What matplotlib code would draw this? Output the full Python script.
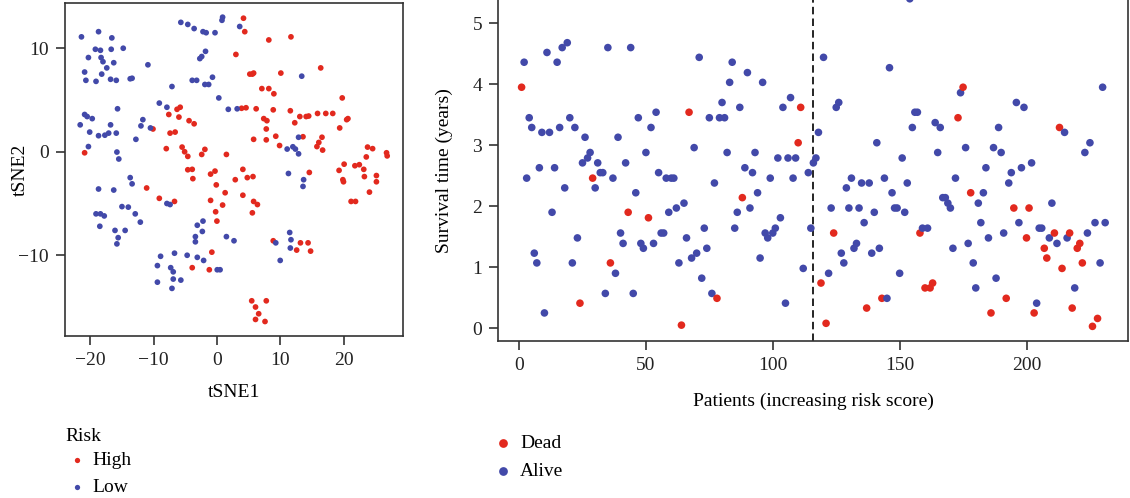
import matplotlib
matplotlib.use("Agg")
import matplotlib.pyplot as plt
from matplotlib.lines import Line2D
import numpy as np

# ---- data: tSNE coordinates by risk group ----
high_tsne1 = [-20.9, -10.1, -7.6, -7.4, -6.6, -6.3, -5.8, -6.0, -4.4, -3.6, -8.0, -5.5, -5.1, -4.6,
              -2.4, -1.9, 1.5, -4.6, -3.9, -3.8, -1.0, -0.3, -0.1, 1.3, 2.9, -1.0, 0.9, -0.2, 0.0,
              -11.1, -9.1, -6.7, -0.8, -3.9, -1.2, 4.2, 4.4, 8.2, 11.7, 3.0, 5.2, 5.6, 5.8, 10.1,
              16.4, 7.1, 8.2, 9.0, 19.8, 3.9, 4.6, 6.2, 8.9, 11.6, 7.4, 7.9, 12.3, 13.1, 14.1, 14.5,
              15.9, 17.2, 18.3, 20.7, 20.5, 19.4, 7.8, 5.8, 7.8, 9.3, 9.9, 13.6, 16.6, 16.1, 15.8,
              16.7, 23.8, 24.6, 23.6, 26.8, 26.9, 20.1, 19.3, 19.9, 20.0, 21.8, 22.5, 23.2, 23.3,
              25.2, 25.2, 24.1, 21.2, 21.9, 14.6, 4.1, 4.8, 5.7, 4.1, 5.8, 6.4, 5.6, 8.9, 13.2,
              14.4, 12.6, 14.8, 5.5, 7.8, 6.1, 6.6, 6.1, 7.6]
high_tsne2 = [-0.1, 2.2, 3.6, 1.8, 1.9, 4.1, 4.3, 3.35, 3.0, 2.7, 0.3, 0.45, 0.0, -0.45,
              -0.26, 0.23, -0.26, -1.74, -1.7, -2.6, -2.16, -1.87, -3.2, -3.96, -2.7, -4.7, -5.15,
              -5.8, -6.7, -3.5, -4.5, -4.8, -9.7, -11.2, -11.4, 12.9, 11.6, 10.8, 11.1, 9.4, 7.5,
              7.5, 7.6, 7.6, 8.1, 6.1, 6.1, 5.6, 5.2, 4.2, 4.25, 4.15, 4.05, 3.96, 3.2, 3.0, 2.8,
              3.4, 3.4, 3.45, 3.7, 3.7, 3.7, 3.2, 3.1, 2.3, 2.2, 1.2, 1.15, 1.5, 0.6, 1.45, 1.4,
              0.9, 0.5, 0.16, 0.45, 0.3, -0.5, -0.1, -0.4, -1.2, -1.8, -2.7, -2.9, -1.35, -1.25,
              -1.7, -2.4, -2.3, -2.9, -3.9, -4.8, -4.8, -2.0, -1.7, -2.5, -2.4, -4.2, -4.8, -5.1,
              -5.9, -8.6, -8.8, -8.8, -9.5, -9.6, -14.4, -14.4, -15.0, -15.65, -16.2, -16.4]

low_tsne1 = [-21.4, -18.7, -16.6, -19.2, -18.4, -16.7, -14.8, -20.3, -18.3, -18.0, -16.3, -17.4,
             -20.9, -18.2, -20.7, -19.1, -16.8, -15.9, -13.7, -13.4, -10.9, -7.1, -5.7, -4.6, -3.6,
             -2.2, -1.7, -0.3, 0.8, 0.9, -2.7, -2.4, -1.8, -3.9, -3.2, -1.9, -1.3, -0.7, 0.3, 1.8,
             3.2, -9.1, -7.9, -20.9, -20.5, -19.7, -21.6, -20.1, -18.7, -17.7, -17.1, -16.8, -15.9,
             -15.7, -20.3, -15.8, -15.5, -12.8, -12.0, -11.7, -10.5, -7.9, -7.4, -13.7, -13.4,
             -18.7, -16.3, -19.1, -18.4, -17.8, -15.0, -14.0, -12.9, -12.1, -18.5, -16.1, -14.5,
             -15.6, -15.8, -2.2, -3.1, -2.3, -3.4, -3.4, 1.5, 2.7, -8.9, -6.7, -4.7, -3.1, -2.1,
             -9.4, -7.3, -6.9, -6.9, -5.7, -9.4, -7.1, 0.05, 0.5, 3.6, 13.4, 12.9, 11.1, 12.0,
             12.4, 12.9, 11.3, 13.7, 13.6, 9.3, 11.5, 11.7, 11.6, 10.0]
low_tsne2 = [11.1, 11.6, 11.0, 9.9, 9.8, 9.9, 10.0, 9.1, 9.1, 8.7, 8.6, 8.1, 7.7, 7.5, 6.9, 6.8,
             7.0, 6.9, 7.05, 7.1, 8.4, 6.3, 12.5, 12.3, 11.9, 11.6, 11.5, 11.5, 12.7, 13.0, 9.0,
             9.2, 9.7, 6.9, 6.9, 6.5, 6.5, 7.2, 5.2, 4.1, 4.15, 4.7, 4.3, 3.6, 3.4, 3.2, 2.6, 1.9,
             1.55, 1.6, 1.8, 2.6, 1.8, 4.15, 0.5, -0.03, -0.7, 1.2, 2.5, 3.1, 2.3, -5.0, -5.1,
             -2.5, -3.1, -3.6, -3.7, -6.0, -6.0, -6.2, -5.3, -5.35, -6.0, -6.8, -7.2, -7.6, -7.6,
             -8.3, -8.9, -6.7, -7.1, -7.7, -8.2, -8.7, -8.2, -8.6, -10.1, -9.8, -10.0, -10.2,
             -10.5, -11.0, -11.2, -11.6, -12.3, -12.4, -12.6, -13.2, -11.4, -11.4, 12.1, 7.3, 1.4,
             0.26, 0.48, 0.26, -0.2, -2.1, -2.7, -3.35, -8.8, -7.8, -8.5, -9.3, -10.5]

# ---- data: survival time by patient rank (increasing risk score) ----
dead_rank = [1, 24, 29, 36, 43, 51, 64, 67, 78, 88, 110, 111, 119, 121, 124, 137, 143, 158, 160,
             162, 163, 173, 175, 178, 186, 192, 195, 200, 201, 203, 207, 208, 211, 213, 214, 217,
             218, 220, 221, 222, 226, 228]
dead_years = [3.95, 0.41, 2.46, 1.07, 1.90, 1.81, 0.05, 3.54, 0.49, 2.14, 3.04, 3.62, 0.74, 0.08,
              1.56, 0.33, 0.49, 1.56, 0.66, 0.66, 0.74, 3.45, 3.95, 2.22, 0.25, 0.49, 1.97, 1.48,
              1.97, 0.25, 1.31, 1.15, 1.56, 3.29, 0.98, 1.56, 0.33, 1.31, 1.39, 1.07, 0.03, 0.16]

alive_rank = [2, 3, 4, 5, 6, 7, 8, 9, 10, 11, 12, 13, 14, 15, 16, 17, 18, 19, 20, 21, 22, 23, 25,
              26, 27, 28, 30, 31, 32, 33, 34, 35, 37, 38, 39, 40, 41, 42, 44, 45, 46, 47, 48, 49,
              50, 52, 53, 54, 55, 56, 57, 58, 59, 60, 61, 62, 63, 65, 66, 68, 69, 70, 71, 72, 73,
              74, 75, 76, 77, 79, 80, 81, 82, 83, 84, 85, 86, 87, 89, 90, 91, 92, 93, 94, 95, 96,
              97, 98, 99, 100, 101, 102, 103, 104, 105, 106, 107, 108, 109, 112, 114, 115, 116,
              117, 118, 120, 122, 123, 125, 126, 127, 128, 129, 130, 131, 132, 133, 134, 135, 136,
              138, 139, 140, 141, 142, 144, 145, 146, 147, 148, 149, 150, 151, 152, 153, 154, 155,
              156, 157, 159, 161, 164, 165, 166, 167, 168, 169, 170, 171, 172, 174, 176, 177, 179,
              180, 181, 182, 183, 184, 185, 187, 188, 189, 190, 191, 193, 194, 196, 197, 198, 199,
              202, 204, 205, 206, 209, 210, 212, 215, 216, 219, 223, 224, 225, 227, 229, 230, 231]
alive_years = [4.36, 2.46, 3.45, 3.29, 1.23, 1.07, 2.63, 3.21, 0.25, 4.52, 3.21, 1.90, 2.63, 4.36,
               3.29, 4.60, 2.30, 4.68, 3.45, 1.07, 3.29, 1.48, 2.71, 3.13, 2.79, 2.88, 2.30, 2.71,
               2.55, 2.55, 0.57, 4.60, 2.46, 0.90, 3.13, 1.56, 1.39, 2.71, 4.60, 0.57, 2.22, 3.45,
               1.39, 1.31, 2.88, 3.29, 1.39, 3.54, 2.55, 1.56, 1.56, 2.46, 1.90, 2.46, 2.46, 1.97,
               1.07, 2.05, 1.48, 1.15, 2.96, 1.23, 4.44, 0.82, 1.64, 1.31, 3.45, 0.57, 2.38, 3.45,
               3.70, 3.45, 2.88, 4.03, 4.36, 1.64, 1.90, 3.62, 2.63, 4.19, 1.97, 2.55, 2.88, 2.22,
               1.15, 4.03, 1.56, 1.48, 2.46, 1.56, 1.64, 2.79, 1.81, 3.62, 0.41, 2.79, 3.78, 2.46,
               2.79, 0.98, 2.55, 1.64, 2.71, 2.79, 3.21, 4.44, 0.90, 1.97, 3.62, 3.70, 1.23, 1.07,
               2.30, 1.97, 2.46, 1.31, 1.39, 1.97, 2.38, 1.73, 2.38, 1.23, 1.90, 3.04, 1.31, 2.46,
               0.49, 4.27, 2.22, 1.97, 1.97, 0.90, 2.79, 1.90, 2.38, 5.40, 3.29, 3.54, 3.54, 1.64,
               1.64, 3.37, 2.88, 3.29, 2.14, 2.14, 2.05, 1.97, 1.31, 2.46, 3.86, 2.96, 1.39, 1.07,
               0.66, 2.05, 1.73, 2.22, 2.63, 1.48, 2.96, 0.82, 3.29, 2.88, 1.56, 2.38, 2.55, 3.70,
               1.73, 2.63, 3.62, 2.71, 0.41, 1.64, 1.64, 1.48, 2.05, 1.39, 3.21, 1.48, 0.66, 2.88,
               1.56, 3.04, 1.73, 1.07, 3.95, 1.73]

risk_cutoff = 116

RED = "#E2291E"
BLUE = "#4249A9"
EDGE = "#333333"

plt.rcParams.update({
    "font.family": ["Liberation Serif", "DejaVu Serif"],
    "font.size": 14,
    "axes.linewidth": 1.2,
    "axes.edgecolor": EDGE,
    "xtick.color": EDGE,
    "ytick.color": EDGE,
    "xtick.labelcolor": "#222222",
    "ytick.labelcolor": "#222222",
    "xtick.major.size": 6.5,
    "ytick.major.size": 6.5,
    "xtick.major.width": 1.2,
    "ytick.major.width": 1.2,
    "xtick.labelsize": 14,
    "ytick.labelsize": 14,
})

fig = plt.figure(figsize=(11.3, 4.98), dpi=100)

# ---- left: tSNE ----
ax1 = fig.add_axes([65 / 1130, 1 - 336 / 498, 338 / 1130, 333 / 498])
ax1.scatter(high_tsne1, high_tsne2, s=17, color=RED, edgecolors="none", zorder=3)
ax1.scatter(low_tsne1, low_tsne2, s=17, color=BLUE, edgecolors="none", zorder=3)
ax1.set_xlim(-24.0, 29.4)
ax1.set_ylim(-17.8, 14.37)
ax1.set_xticks([-20, -10, 0, 10, 20])
ax1.set_yticks([-10, 0, 10])
ax1.tick_params(direction="out", pad=5)
ax1.set_xlabel("tSNE1")
ax1.set_ylabel("tSNE2")
ax1.xaxis.set_label_coords(0.5, -0.143)
ax1.yaxis.set_label_coords(-0.108, 0.5)

# ---- right: survival time ----
ax2 = fig.add_axes([498 / 1130, 1 - 341 / 498, 630 / 1130, 341 / 498])
rank = np.array(dead_rank + alive_rank)
years = np.array(dead_years + alive_years)
cols = np.array([RED] * len(dead_rank) + [BLUE] * len(alive_rank))
order = np.argsort(rank, kind="stable")
ax2.scatter(rank[order], years[order], s=30, c=cols[order], edgecolors="none", zorder=3,
            clip_on=True)
ax2.axvline(risk_cutoff, color="black", lw=1.2, ls=(0, (4.5, 2.5)), zorder=2)
ax2.set_xlim(-8.3, 240.0)
ax2.set_ylim(-0.21, 5.38)
ax2.set_xticks([0, 50, 100, 150, 200])
ax2.set_yticks([0, 1, 2, 3, 4, 5])
ax2.tick_params(direction="out", pad=5)
ax2.spines["top"].set_visible(False)
ax2.set_xlabel("Patients (increasing risk score)")
ax2.set_ylabel("Survival time (years)")
ax2.xaxis.set_label_coords(0.5, -0.152)
ax2.yaxis.set_label_coords(-0.072, 0.5)

# ---- legends (drawn by hand, R style) ----
def fy(py):
    return 1 - py / 498

fig.text(65 / 1130, fy(440.7), "Risk", ha="left", va="baseline", fontsize=14)
for lab, col, py_dot, py_txt in [("High", RED, 459.7, 465), ("Low", BLUE, 487.3, 492.3)]:
    fig.add_artist(Line2D([76.7 / 1130], [fy(py_dot)], marker="o", ms=3.8, color=col,
                          mec="none", ls="none", transform=fig.transFigure))
    fig.text(92.7 / 1130, fy(py_txt), lab, ha="left", va="baseline", fontsize=14)

for lab, col, py_dot, py_txt in [("Dead", RED, 443.3, 448.3), ("Alive", BLUE, 470.7, 476)]:
    fig.add_artist(Line2D([502.7 / 1130], [fy(py_dot)], marker="o", ms=6.3, color=col,
                          mec="none", ls="none", transform=fig.transFigure))
    fig.text(520 / 1130, fy(py_txt), lab, ha="left", va="baseline", fontsize=14)

fig.savefig("out.png", dpi=100)
